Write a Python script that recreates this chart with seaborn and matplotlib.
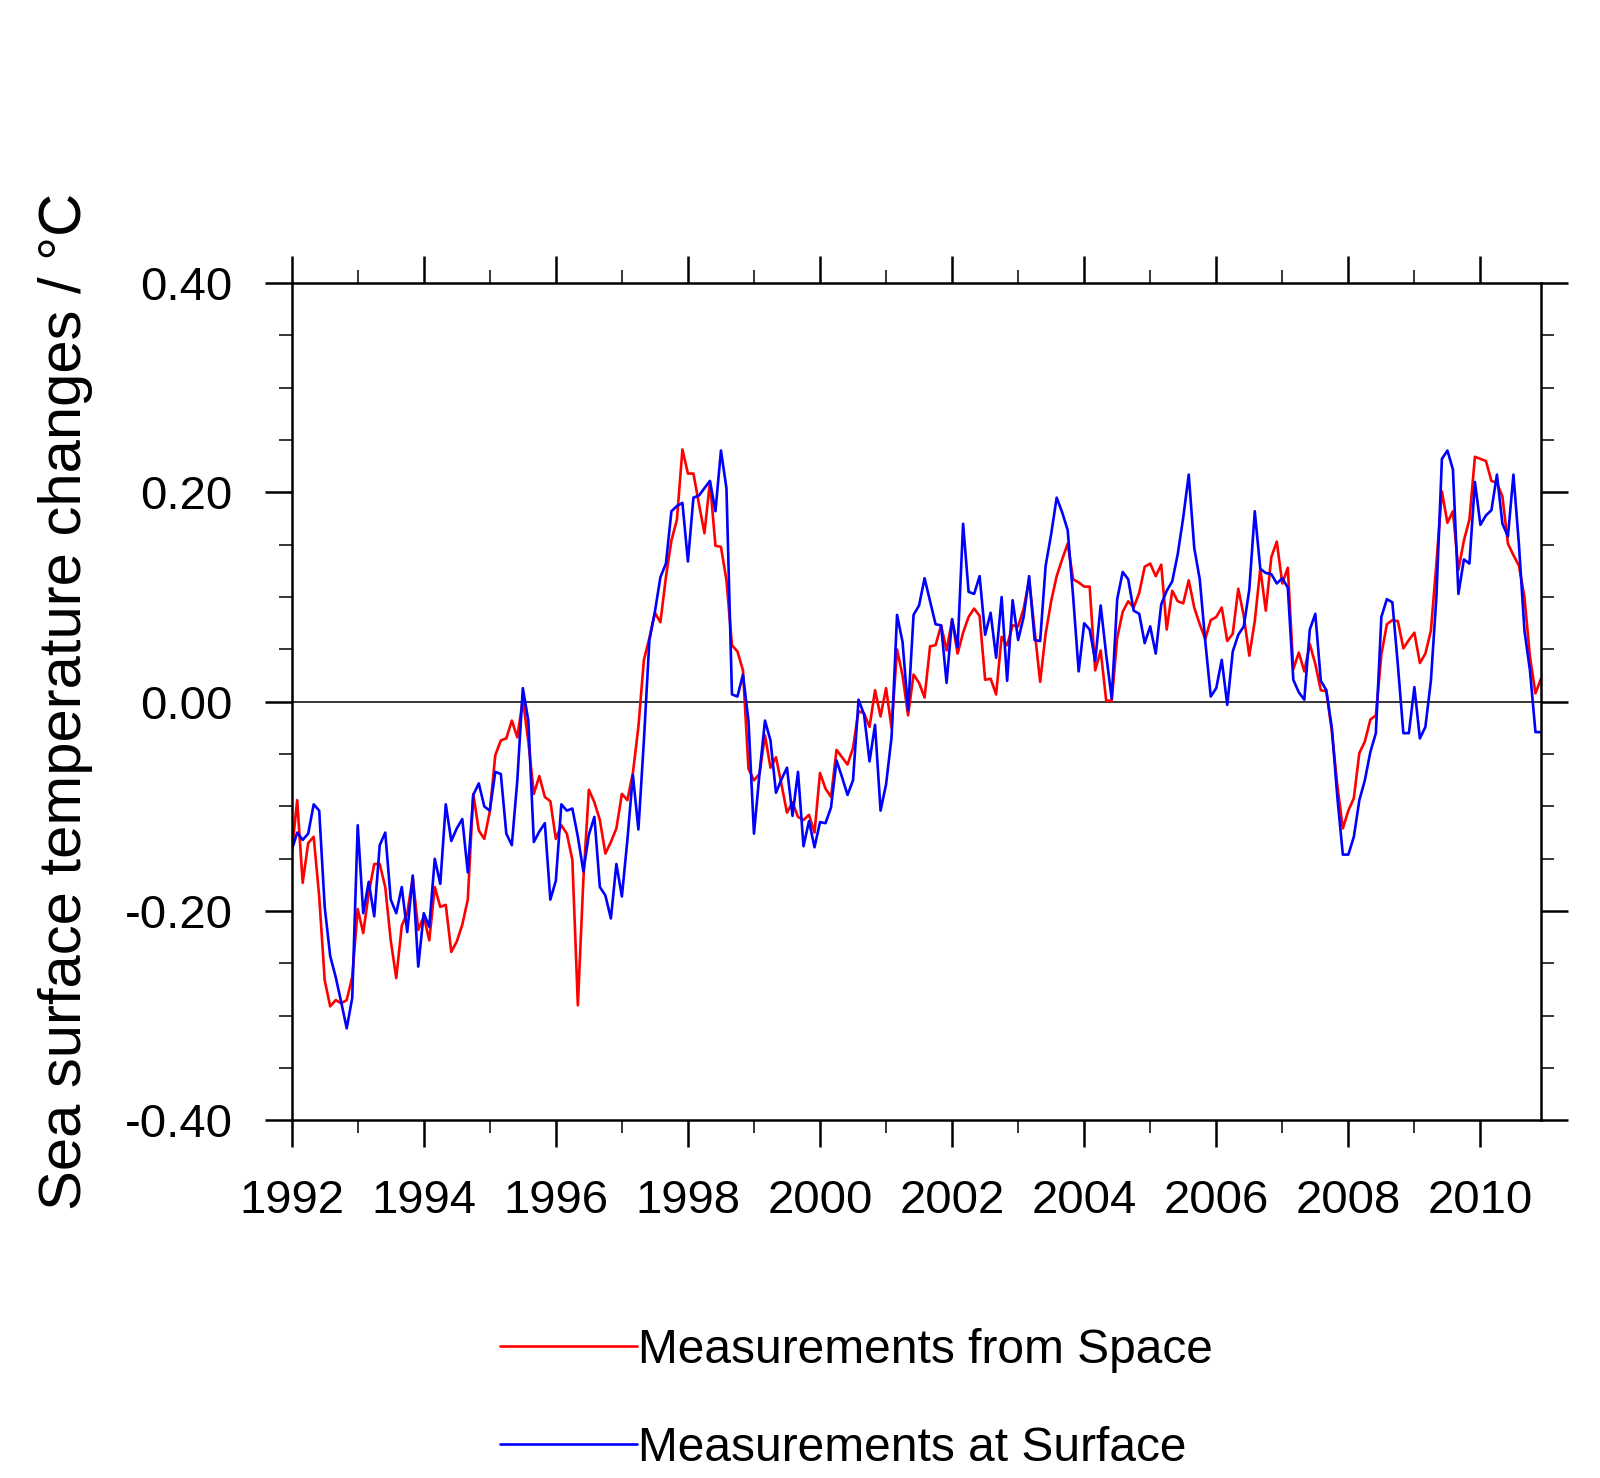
import numpy as np
import pandas as pd
import matplotlib
matplotlib.use("Agg")
import matplotlib.pyplot as plt
from matplotlib.ticker import MultipleLocator, FormatStrFormatter
import seaborn as sns

# monthly anomalies, Jan 1992 .. Dec 2010
space = [
    -0.145, -0.094, -0.173, -0.135, -0.129, -0.186, -0.266, -0.291, -0.285, -0.288, -0.285, -0.263,
    -0.198, -0.221, -0.183, -0.155, -0.155, -0.177, -0.228, -0.264, -0.214, -0.202, -0.168, -0.218,
    -0.205, -0.228, -0.177, -0.196, -0.194, -0.239, -0.229, -0.213, -0.189, -0.088, -0.123, -0.131,
    -0.105, -0.051, -0.037, -0.035, -0.018, -0.034, 0.002, -0.038, -0.088, -0.071, -0.091, -0.095,
    -0.131, -0.118, -0.126, -0.151, -0.290, -0.170, -0.084, -0.096, -0.113, -0.145, -0.134, -0.121,
    -0.088, -0.094, -0.068, -0.024, 0.040, 0.061, 0.085, 0.076, 0.119, 0.154, 0.174, 0.241,
    0.218, 0.218, 0.189, 0.161, 0.210, 0.149, 0.148, 0.116, 0.054, 0.048, 0.030, -0.064,
    -0.075, -0.069, -0.032, -0.063, -0.053, -0.079, -0.106, -0.096, -0.110, -0.113, -0.108, -0.125,
    -0.068, -0.083, -0.091, -0.046, -0.053, -0.060, -0.044, -0.009, -0.011, -0.024, 0.011, -0.014,
    0.013, -0.025, 0.050, 0.025, -0.013, 0.026, 0.018, 0.004, 0.053, 0.054, 0.073, 0.049,
    0.078, 0.046, 0.066, 0.081, 0.089, 0.082, 0.021, 0.022, 0.007, 0.062, 0.054, 0.073,
    0.072, 0.089, 0.116, 0.068, 0.019, 0.065, 0.096, 0.120, 0.136, 0.151, 0.117, 0.114,
    0.110, 0.110, 0.030, 0.049, 0.001, 0.001, 0.061, 0.086, 0.096, 0.090, 0.104, 0.129,
    0.132, 0.120, 0.131, 0.069, 0.106, 0.096, 0.094, 0.116, 0.090, 0.074, 0.060, 0.078,
    0.081, 0.090, 0.058, 0.065, 0.108, 0.082, 0.044, 0.077, 0.127, 0.087, 0.138, 0.153,
    0.113, 0.128, 0.031, 0.047, 0.029, 0.055, 0.036, 0.011, 0.010, -0.028, -0.080, -0.121,
    -0.104, -0.092, -0.049, -0.038, -0.017, -0.013, 0.045, 0.074, 0.078, 0.077, 0.051, 0.059,
    0.066, 0.037, 0.046, 0.068, 0.132, 0.201, 0.171, 0.182, 0.126, 0.154, 0.174, 0.234,
    0.232, 0.230, 0.211, 0.209, 0.196, 0.151, 0.140, 0.130, 0.100, 0.043, 0.008, 0.022,
]

surface = [
    -0.142, -0.125, -0.132, -0.126, -0.098, -0.104, -0.196, -0.243, -0.263, -0.287, -0.312, -0.283,
    -0.118, -0.202, -0.172, -0.205, -0.137, -0.125, -0.189, -0.202, -0.177, -0.220, -0.166, -0.253,
    -0.202, -0.215, -0.150, -0.174, -0.098, -0.133, -0.121, -0.112, -0.163, -0.089, -0.078, -0.100,
    -0.104, -0.067, -0.069, -0.126, -0.137, -0.075, 0.013, -0.018, -0.134, -0.124, -0.116, -0.189,
    -0.171, -0.098, -0.104, -0.102, -0.129, -0.162, -0.127, -0.110, -0.177, -0.185, -0.207, -0.155,
    -0.186, -0.132, -0.070, -0.122, -0.037, 0.059, 0.086, 0.119, 0.132, 0.182, 0.187, 0.190,
    0.134, 0.195, 0.197, 0.204, 0.211, 0.182, 0.240, 0.204, 0.007, 0.005, 0.026, -0.018,
    -0.126, -0.069, -0.018, -0.037, -0.087, -0.074, -0.063, -0.109, -0.067, -0.138, -0.114, -0.139,
    -0.115, -0.116, -0.101, -0.056, -0.072, -0.089, -0.075, 0.002, -0.012, -0.057, -0.022, -0.104,
    -0.079, -0.034, 0.083, 0.057, -0.008, 0.083, 0.092, 0.118, 0.096, 0.074, 0.073, 0.018,
    0.079, 0.052, 0.170, 0.105, 0.103, 0.120, 0.064, 0.085, 0.042, 0.100, 0.020, 0.097,
    0.059, 0.081, 0.120, 0.059, 0.058, 0.130, 0.160, 0.195, 0.181, 0.164, 0.100, 0.029,
    0.075, 0.069, 0.039, 0.092, 0.045, 0.003, 0.098, 0.124, 0.117, 0.087, 0.084, 0.056,
    0.072, 0.046, 0.093, 0.106, 0.115, 0.141, 0.176, 0.217, 0.147, 0.117, 0.058, 0.005,
    0.013, 0.040, -0.003, 0.048, 0.064, 0.072, 0.107, 0.182, 0.127, 0.123, 0.122, 0.113,
    0.118, 0.109, 0.021, 0.009, 0.002, 0.069, 0.084, 0.020, 0.011, -0.025, -0.091, -0.146,
    -0.146, -0.129, -0.094, -0.075, -0.048, -0.030, 0.081, 0.098, 0.095, 0.035, -0.030, -0.030,
    0.014, -0.035, -0.024, 0.020, 0.100, 0.232, 0.240, 0.222, 0.103, 0.136, 0.132, 0.210,
    0.169, 0.178, 0.183, 0.217, 0.170, 0.158, 0.217, 0.150, 0.068, 0.030, -0.029, -0.029,
]

start_year = 1992
years = start_year + np.arange(len(space)) / 12.0
year_ticks = list(range(1992, 2011, 2))
value_ticks = [-0.4, -0.2, 0.0, 0.2, 0.4]

df = pd.DataFrame({"year": years, "space": space, "surface": surface})

sns.set_style("ticks")
plt.rcParams["font.family"] = ["Liberation Sans", "DejaVu Sans"]
plt.rcParams["axes.unicode_minus"] = False
plt.rcParams["text.color"] = "black"
plt.rcParams["axes.labelcolor"] = "black"

fig = plt.figure(figsize=(16, 14.78), dpi=100)
ax = fig.add_axes([0.1823, 0.2419, 0.7808, 0.5666])

sns.lineplot(data=df, x="year", y="space", color="#ff0000", lw=1.9,
             label="Measurements from Space", ax=ax)
sns.lineplot(data=df, x="year", y="surface", color="#0000ff", lw=1.9,
             label="Measurements at Surface", ax=ax)
ax.axhline(0, color="black", lw=1.1, zorder=1)

ax.set_xlim(years[0], years[-1])
ax.set_ylim(-0.4, 0.4)
ax.set_xticks(year_ticks)
ax.set_yticks(value_ticks)
ax.xaxis.set_minor_locator(MultipleLocator(1))
ax.yaxis.set_minor_locator(MultipleLocator(0.05))
ax.yaxis.set_major_formatter(FormatStrFormatter("%.2f"))

for side in ["top", "right", "bottom", "left"]:
    ax.spines[side].set_visible(True)
    ax.spines[side].set_linewidth(1.8)
    ax.spines[side].set_color("black")

ax.tick_params(which="both", direction="out", top=True, right=True,
               colors="black", labelcolor="black")
ax.tick_params(which="major", length=19.5, width=1.8, labelsize=34)
ax.tick_params(which="minor", length=9.5, width=1.1)
ax.tick_params(axis="x", which="major", pad=23)
ax.tick_params(axis="y", which="major", pad=23)

ax.set_xlabel("")
ax.set_ylabel("Sea surface temperature changes / \u00b0C", fontsize=43, color="black")
ax.yaxis.set_label_coords(-0.159, 0.5)

leg = ax.legend(loc="upper left", bbox_to_anchor=(0.3125, 0.1015),
                bbox_transform=fig.transFigure, frameon=False,
                prop={"size": 34.5},
                handlelength=2.85, handletextpad=0.04, labelspacing=1.1,
                borderpad=0, borderaxespad=0)
for line in leg.get_lines():
    line.set_linewidth(1.9)
for text in leg.get_texts():
    text.set_color("black")

fig.savefig("out.png", dpi=100, facecolor="white")
